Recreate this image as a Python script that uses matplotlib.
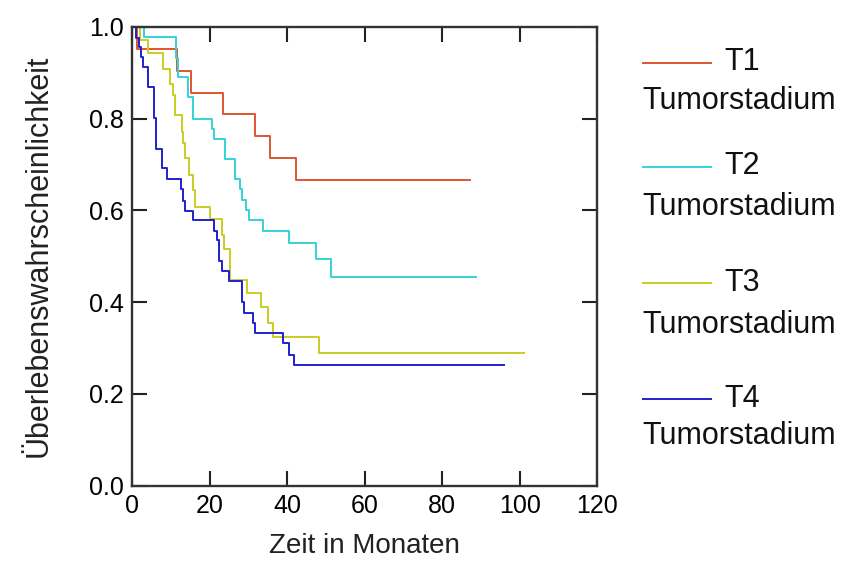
import matplotlib
matplotlib.use("Agg")
import matplotlib.pyplot as plt
from matplotlib.lines import Line2D

plt.rcParams["font.family"] = ["Liberation Sans", "DejaVu Sans"]

# Kaplan-Meier step data (Monate, Überlebenswahrscheinlichkeit)
t1_time = [0, 1.2, 11.4, 15.1, 23.5, 31.7, 35.4, 42.2, 87.2]
t1_surv = [1.0, 0.952, 0.905, 0.857, 0.810, 0.762, 0.714, 0.667, 0.667]

t2_time = [0, 3.1, 11.2, 11.7, 14.4, 15.7, 20.6, 21.0, 23.9, 26.5, 27.7, 28.3,
           29.2, 30.2, 33.6, 40.5, 47.3, 51.3, 88.7]
t2_surv = [1.0, 0.978, 0.933, 0.891, 0.848, 0.800, 0.778, 0.756, 0.712, 0.668, 0.647, 0.623,
           0.600, 0.578, 0.555, 0.528, 0.493, 0.455, 0.455]

t3_time = [0, 2.0, 4.1, 7.8, 9.6, 10.4, 10.9, 12.7, 13.1, 13.6, 14.7, 15.6, 16.1,
           20.0, 23.0, 23.6, 25.1, 29.5, 33.2, 34.9, 36.4, 48.1, 101.1]
t3_surv = [1.0, 0.971, 0.943, 0.908, 0.876, 0.852, 0.808, 0.772, 0.746, 0.714, 0.677, 0.645, 0.608,
           0.581, 0.546, 0.516, 0.448, 0.420, 0.390, 0.355, 0.323, 0.288, 0.288]

t4_time = [0, 1.0, 1.6, 2.3, 2.8, 4.1, 5.6, 6.2, 7.5, 8.8, 12.6, 13.1, 13.6, 15.7,
           21.1, 21.8, 22.4, 23.0, 25.0, 28.2, 28.9, 31.2, 31.7, 39.0, 40.5, 41.6, 96.0]
t4_surv = [1.0, 0.976, 0.956, 0.934, 0.913, 0.870, 0.801, 0.735, 0.692, 0.669, 0.646, 0.620, 0.598, 0.578,
           0.555, 0.535, 0.489, 0.467, 0.446, 0.401, 0.376, 0.354, 0.332, 0.310, 0.284, 0.262, 0.262]

stages = ["T1", "T2", "T3", "T4"]
colors = ["#e05530", "#33d3d8", "#cccc22", "#2020d0"]
series = [(t1_time, t1_surv), (t2_time, t2_surv), (t3_time, t3_surv), (t4_time, t4_surv)]

x_ticks = [0, 20, 40, 60, 80, 100, 120]
y_ticks = [0.0, 0.2, 0.4, 0.6, 0.8, 1.0]

W, H = 845, 577
fig = plt.figure(figsize=(W / 100, H / 100), dpi=100, facecolor="white")
ax = fig.add_axes([132.5 / W, 1 - 485.5 / H, (597 - 132.5) / W, (485.5 - 27) / H])

for (tt, ss), c in zip(series, colors):
    ax.step(tt, ss, where="post", color=c, linewidth=1.4)

ax.set_xlim(0, 120)
ax.set_ylim(0, 1.0)
ax.set_xticks(x_ticks)
ax.set_yticks(y_ticks)
ax.set_yticklabels([f"{v:.1f}" for v in y_ticks])
ax.tick_params(direction="in", length=11, width=1.5, labelsize=18, color="#222222",
               top=True, right=True, pad=6)
for s in ax.spines.values():
    s.set_linewidth(1.7)
    s.set_color("#333333")

ax.set_xlabel("Zeit in Monaten", fontsize=20, labelpad=11, color="#222222")
ax.set_ylabel("Überlebenswahrscheinlichkeit", fontsize=22, labelpad=26, color="#222222")

# legend drawn by hand: line + stage label, "Tumorstadium" on the next line
line_y = [62.5, 166.5, 283.3, 399.3]
text_y = [101, 207, 325, 436]
for st, c, ly, ty in zip(stages, colors, line_y, text_y):
    fig.add_artist(Line2D([643 / W, 711 / W], [1 - ly / H, 1 - ly / H], color=c, linewidth=1.4))
    fig.text(724 / W, 1 - ly / H, st, fontsize=22, va="center", ha="left", color="#111111")
    fig.text(642 / W, 1 - ty / H, "Tumorstadium", fontsize=22, va="center", ha="left", color="#111111")

fig.savefig("out.png", dpi=100, facecolor="white")
